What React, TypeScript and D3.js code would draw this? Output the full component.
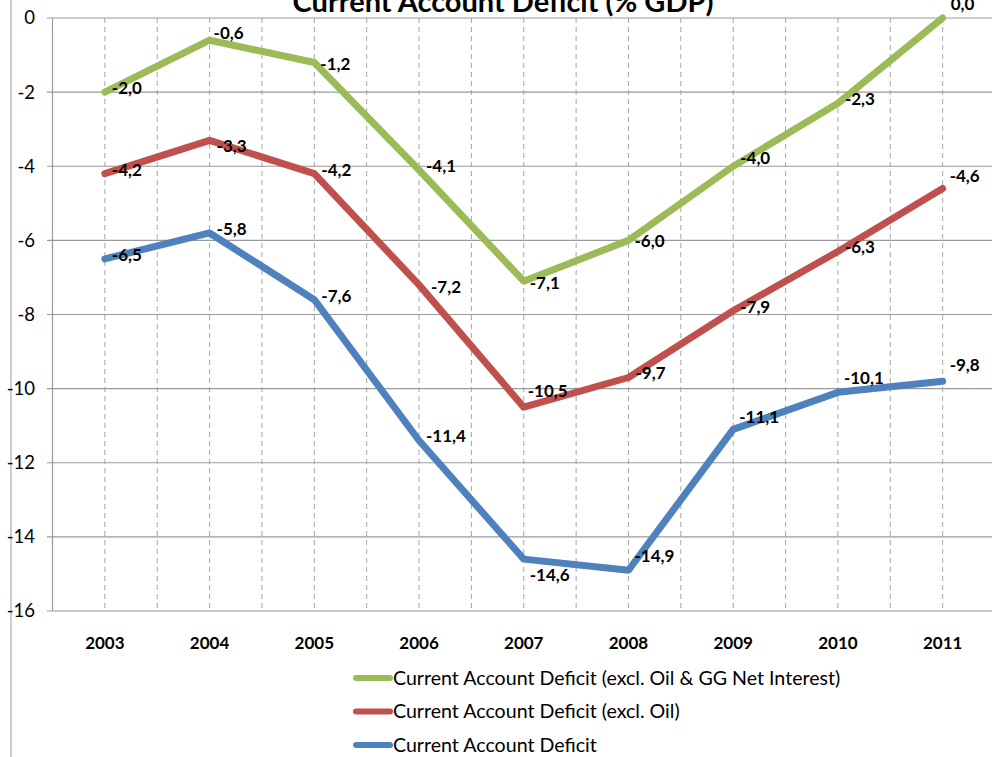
import React from "react";
import * as d3 from "d3";

// Years on the category axis
const years = ["2003", "2004", "2005", "2006", "2007", "2008", "2009", "2010", "2011"];

// Current account balance, % of GDP
const exclOilAndInterest = [-2.0, -0.6, -1.2, -4.1, -7.1, -6.0, -4.0, -2.3, 0.0];
const exclOil = [-4.2, -3.3, -4.2, -7.2, -10.5, -9.7, -7.9, -6.3, -4.6];
const headline = [-6.5, -5.8, -7.6, -11.4, -14.6, -14.9, -11.1, -10.1, -9.8];

const seriesNames = [
  "Current Account Deficit (excl. Oil & GG Net Interest)",
  "Current Account Deficit (excl. Oil)",
  "Current Account Deficit",
];

const yTicks = [0, -2, -4, -6, -8, -10, -12, -14, -16];

const W = 992;
const H = 757;
const FONT = "Lato, 'Open Sans', sans-serif";

const colors = ["#9bbb59", "#c0504d", "#4f81bd"];

// Small per-label nudges (dx, dy) for labels that would collide with a line
const labelNudge: Record<string, [number, number]> = {
  "2-4": [6, 16],
  "1-4": [4, -16],
  "2-5": [6, -14],
  "0-8": [8, -14],
  "1-8": [7, -12],
  "2-8": [7, -16],
  "2-6": [6, -12],
  "2-7": [6, -14],
  "1-3": [12, 2],
  "1-1": [7, 6],
  "0-2": [6, 2],
  "0-4": [6, 2],
  "0-5": [6, 1],
  "0-6": [7, -8],
  "0-1": [4, -7],
};

export default function App() {
  const x = d3
    .scaleBand<string>()
    .domain(years)
    .range([52.5, 995])
    .paddingInner(0)
    .paddingOuter(0);
  const cx = (yr: string) => (x(yr) as number) + x.bandwidth() / 2;
  const y = d3.scaleLinear().domain([-16, 0]).range([611, 18]);

  const series = [exclOilAndInterest, exclOil, headline];
  const line = d3
    .line<number>()
    .x((_, i) => cx(years[i]))
    .y((d) => y(d));

  const fmt = (v: number) => v.toFixed(1).replace(".", ",");

  // vertical dashed lines at category centres and boundaries
  const vLines: number[] = [];
  years.forEach((yr) => {
    vLines.push(cx(yr));
    vLines.push((x(yr) as number) + x.bandwidth());
  });

  return (
    <svg width={W} height={H} style={{ position: "absolute", left: 0, top: 0, background: "#fff" }}>
      <rect x={0} y={0} width={W} height={H} fill="#fff" />
      {/* outer chart border */}
      <line x1={11} x2={11} y1={0} y2={H} stroke="#9a9a9a" strokeWidth={1} />

      {/* title */}
      <text
        x={503}
        y={12}
        textAnchor="middle"
        fontFamily={FONT}
        fontWeight="bold"
        fontSize={29}
        fill="#000"
      >
        Current Account Deficit (% GDP)
      </text>

      {/* vertical dashed grid */}
      {vLines.map((vx, i) => (
        <line
          key={"v" + i}
          x1={vx}
          x2={vx}
          y1={y(0)}
          y2={y(-16)}
          stroke="#a6a6a6"
          strokeWidth={1}
          strokeDasharray="5,4"
        />
      ))}

      {/* horizontal grid + ticks */}
      {yTicks.map((t) => (
        <g key={"h" + t}>
          <line x1={47} x2={995} y1={y(t)} y2={y(t)} stroke="#9a9a9a" strokeWidth={1.2} />
          <text
            x={35}
            y={y(t)}
            dy="0.35em"
            textAnchor="end"
            fontFamily={FONT}
            fontSize={18.5}
            fill="#000"
          >
            {t}
          </text>
        </g>
      ))}
      {/* value axis line */}
      <line x1={52.5} x2={52.5} y1={y(0)} y2={y(-16)} stroke="#9a9a9a" strokeWidth={1.2} />

      {/* category labels */}
      {years.map((yr) => (
        <text
          key={yr}
          x={cx(yr)}
          y={643}
          dy="0.35em"
          textAnchor="middle"
          fontFamily={FONT}
          fontWeight="bold"
          fontSize={17}
          fill="#000"
        >
          {yr}
        </text>
      ))}

      {/* series lines */}
      {series.map((s, si) => (
        <path
          key={"s" + si}
          d={line(s) as string}
          fill="none"
          stroke={colors[si]}
          strokeWidth={7}
          strokeLinejoin="round"
          strokeLinecap="round"
        />
      ))}

      {/* data labels */}
      {series.map((s, si) =>
        s.map((v, i) => {
          const n = labelNudge[`${si}-${i}`] || [7, -4];
          return (
            <text
              key={`l${si}-${i}`}
              x={cx(years[i]) + n[0]}
              y={y(v) + n[1]}
              dy="0.35em"
              fontFamily={FONT}
              fontWeight="bold"
              fontSize={17}
              fill="#000"
            >
              {fmt(v)}
            </text>
          );
        })
      )}

      {/* legend */}
      {seriesNames.map((name, i) => {
        const ly = 678 + i * 33.5;
        return (
          <g key={"lg" + i}>
            <line
              x1={356}
              x2={390}
              y1={ly}
              y2={ly}
              stroke={colors[i]}
              strokeWidth={6}
              strokeLinecap="round"
            />
            <text x={393} y={ly} dy="0.35em" fontFamily={FONT} fontSize={19.6} fill="#000">
              {name}
            </text>
          </g>
        );
      })}
    </svg>
  );
}
